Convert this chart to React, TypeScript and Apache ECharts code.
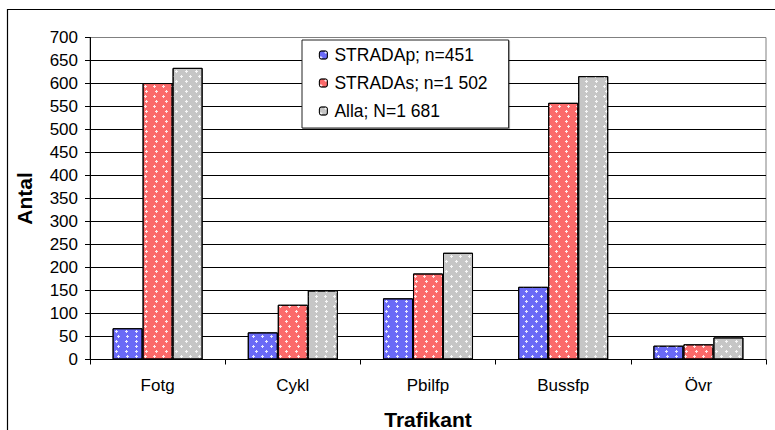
import React, { useEffect, useRef } from "react";
import * as echarts from "echarts";

const categories = ["Fotg", "Cykl", "Pbilfp", "Bussfp", "Övr"];
const seriesNames = ["STRADAp; n=451", "STRADAs; n=1 502", "Alla; N=1 681"];
const stradapValues = [68, 59, 133, 158, 30];
const stradasValues = [601, 119, 187, 558, 33];
const allaValues = [634, 150, 232, 616, 48];
const seriesColors = ["#6a6af6", "#fb6a6a", "#c6c6c6"];
const yTicks = { min: 0, max: 700, interval: 50 };

const FONT = "'Liberation Sans', Arial, sans-serif";

const decal = {
  symbol: "path://M1,0H2V1H3V2H2V3H1V2H0V1H1Z",
  symbolSize: 1,
  color: "rgba(255,255,255,0.85)",
  dashArrayX: [[3, 6], [0, 4.5, 3, 1.5]],
  dashArrayY: [3, 1.5],
  rotation: 0,
};

export default function App() {
  const ref = useRef<HTMLDivElement>(null);
  useEffect(() => {
    if (!ref.current) return;
    const chart = echarts.init(ref.current, undefined, { renderer: "svg" });
    const values = [stradapValues, stradasValues, allaValues];
    chart.setOption({
      animation: false,
      backgroundColor: "#ffffff",
      textStyle: { fontFamily: FONT },
      graphic: [
        {
          type: "rect",
          shape: { x: 7.5, y: 9.5, width: 820, height: 500 },
          style: { fill: "none", stroke: "#000", lineWidth: 1.2 },
          z: 0,
        },
      ],
      grid: {
        left: 90,
        right: 9,
        top: 37.5,
        bottom: 70.5,
        containLabel: false,
        outerBoundsMode: "none",
        show: true,
        borderColor: "#808080",
        borderWidth: 1,
        backgroundColor: "#fff",
      },
      legend: {
        orient: "vertical",
        left: 302,
        top: 40,
        padding: [6, 21, 8, 17],
        itemWidth: 8,
        itemHeight: 8,
        itemGap: 10,
        backgroundColor: "#fff",
        borderColor: "#222",
        borderWidth: 1,
        shadowColor: "rgba(0,0,0,0.35)",
        shadowOffsetX: 1,
        shadowOffsetY: 1,
        shadowBlur: 0,
        textStyle: { fontSize: 17.5, color: "#000", fontFamily: FONT, padding: [0, 0, 0, 2], lineHeight: 17.5 },
        itemStyle: { borderColor: "#000", borderWidth: 0.8 },
        data: seriesNames,
      },
      xAxis: {
        type: "category",
        data: categories,
        name: "Trafikant",
        nameLocation: "middle",
        nameGap: 49,
        nameTextStyle: { fontSize: 21, fontWeight: "bold", color: "#000", fontFamily: FONT },
        axisLine: { lineStyle: { color: "#000", width: 1 } },
        axisTick: { show: true, length: 5, lineStyle: { color: "#000" } },
        axisLabel: { fontSize: 17, color: "#000", margin: 17, fontFamily: FONT },
      },
      yAxis: {
        type: "value",
        min: yTicks.min,
        max: yTicks.max,
        interval: yTicks.interval,
        name: "Antal",
        nameLocation: "middle",
        nameGap: 55,
        nameTextStyle: { fontSize: 21, fontWeight: "bold", color: "#000", fontFamily: FONT },
        axisLine: { show: true, lineStyle: { color: "#000", width: 1 } },
        axisTick: { show: true, length: 5, lineStyle: { color: "#000" } },
        axisLabel: { fontSize: 17, color: "#000", margin: 12, fontFamily: FONT },
        splitLine: { show: true, showMaxLine: false, lineStyle: { color: "#000", width: 1 } },
      },
      series: seriesNames.map((name, i) => ({
        name,
        type: "bar",
        data: values[i],
        barGap: "0%",
        barCategoryGap: "33.4%",
        itemStyle: {
          color: seriesColors[i],
          borderColor: "#000",
          borderWidth: 1,
          decal,
        },
      })),
    });
    return () => chart.dispose();
  }, []);
  return (
    <div
      ref={ref}
      style={{ position: "absolute", left: 0, top: 0, width: 775, height: 430 }}
    />
  );
}
